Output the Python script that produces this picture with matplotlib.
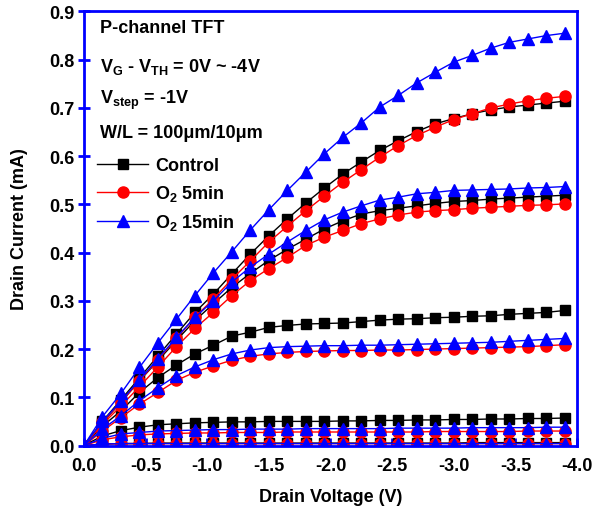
import numpy as np
import matplotlib
matplotlib.use('Agg')
import matplotlib.pyplot as plt

plt.rcParams['font.family'] = ['Liberation Sans', 'DejaVu Sans']
plt.rcParams['font.weight'] = 'bold'
plt.rcParams['mathtext.fontset'] = 'custom'
plt.rcParams['mathtext.rm'] = 'Liberation Sans:bold'
plt.rcParams['mathtext.bf'] = 'Liberation Sans:bold'
plt.rcParams['mathtext.it'] = 'Liberation Sans:bold'

# drain voltage, 0 to -3.9 V in -0.15 V steps
vd = [0, -0.15, -0.3, -0.45, -0.6, -0.75, -0.9, -1.05, -1.2, -1.35, -1.5, -1.65, -1.8,
      -1.95, -2.1, -2.25, -2.4, -2.55, -2.7, -2.85, -3.0, -3.15, -3.3, -3.45, -3.6, -3.75, -3.9]

# Control (mA), VG-VTH = 0, -1, -2, -3, -4 V
control_0 = [0, 0.003, 0.004, 0.004, 0.005, 0.005, 0.005, 0.005, 0.005, 0.005, 0.005, 0.005, 0.005,
             0.005, 0.005, 0.005, 0.005, 0.005, 0.005, 0.005, 0.005, 0.006, 0.006, 0.006, 0.006, 0.006, 0.006]
control_1 = [0, 0.020, 0.031, 0.038, 0.043, 0.045, 0.047, 0.048, 0.049, 0.049, 0.050, 0.050, 0.050,
             0.050, 0.051, 0.051, 0.052, 0.052, 0.053, 0.053, 0.054, 0.054, 0.055, 0.055, 0.056, 0.056, 0.057]
control_2 = [0, 0.040, 0.072, 0.110, 0.141, 0.167, 0.190, 0.208, 0.227, 0.235, 0.245, 0.249, 0.252,
             0.253, 0.254, 0.257, 0.260, 0.262, 0.263, 0.265, 0.266, 0.268, 0.269, 0.272, 0.274, 0.276, 0.280]
control_3 = [0, 0.047, 0.090, 0.134, 0.176, 0.218, 0.259, 0.294, 0.328, 0.357, 0.384, 0.407, 0.428,
             0.449, 0.466, 0.480, 0.487, 0.492, 0.497, 0.502, 0.506, 0.508, 0.511, 0.513, 0.515, 0.517, 0.519]
control_4 = [0, 0.050, 0.095, 0.140, 0.186, 0.231, 0.276, 0.314, 0.356, 0.397, 0.435, 0.470, 0.503,
             0.534, 0.563, 0.588, 0.612, 0.632, 0.651, 0.667, 0.678, 0.688, 0.696, 0.702, 0.706, 0.710, 0.714]

# O2 5min
o2_5_0 = [0, 0.003, 0.004, 0.004, 0.004, 0.004, 0.004, 0.004, 0.004, 0.004, 0.004, 0.004, 0.004,
          0.004, 0.004, 0.004, 0.004, 0.004, 0.004, 0.004, 0.004, 0.004, 0.004, 0.004, 0.004, 0.004, 0.004]
o2_5_1 = [0, 0.012, 0.018, 0.022, 0.024, 0.025, 0.026, 0.026, 0.027, 0.027, 0.027, 0.028, 0.028,
          0.028, 0.028, 0.028, 0.028, 0.028, 0.028, 0.029, 0.029, 0.029, 0.029, 0.029, 0.030, 0.030, 0.030]
o2_5_2 = [0, 0.030, 0.058, 0.086, 0.110, 0.135, 0.152, 0.165, 0.177, 0.185, 0.190, 0.193, 0.195,
          0.196, 0.197, 0.197, 0.198, 0.198, 0.199, 0.200, 0.201, 0.202, 0.203, 0.204, 0.205, 0.207, 0.209]
o2_5_3 = [0, 0.044, 0.082, 0.122, 0.163, 0.205, 0.243, 0.276, 0.311, 0.342, 0.367, 0.390, 0.415,
          0.432, 0.446, 0.460, 0.470, 0.478, 0.484, 0.487, 0.489, 0.492, 0.494, 0.496, 0.498, 0.499, 0.501]
o2_5_4 = [0, 0.048, 0.090, 0.134, 0.178, 0.222, 0.266, 0.304, 0.345, 0.383, 0.422, 0.455, 0.487,
          0.517, 0.546, 0.572, 0.598, 0.622, 0.643, 0.660, 0.676, 0.688, 0.700, 0.708, 0.715, 0.720, 0.724]

# O2 15min
o2_15_0 = [0, 0.003, 0.004, 0.004, 0.004, 0.004, 0.004, 0.004, 0.004, 0.004, 0.004, 0.004, 0.004,
           0.004, 0.004, 0.004, 0.004, 0.004, 0.004, 0.004, 0.004, 0.004, 0.004, 0.004, 0.004, 0.004, 0.004]
o2_15_1 = [0, 0.015, 0.024, 0.027, 0.030, 0.031, 0.032, 0.033, 0.033, 0.034, 0.034, 0.034, 0.035,
           0.035, 0.035, 0.035, 0.035, 0.036, 0.036, 0.036, 0.036, 0.037, 0.037, 0.037, 0.037, 0.038, 0.038]
o2_15_2 = [0, 0.034, 0.062, 0.093, 0.120, 0.145, 0.163, 0.178, 0.190, 0.198, 0.203, 0.205, 0.206,
           0.207, 0.207, 0.208, 0.208, 0.209, 0.210, 0.211, 0.212, 0.213, 0.214, 0.216, 0.218, 0.220, 0.222]
o2_15_3 = [0, 0.050, 0.092, 0.136, 0.180, 0.224, 0.266, 0.300, 0.339, 0.370, 0.397, 0.422, 0.446,
           0.468, 0.484, 0.497, 0.509, 0.515, 0.522, 0.525, 0.529, 0.530, 0.531, 0.532, 0.534, 0.535, 0.537]
o2_15_4 = [0, 0.060, 0.108, 0.162, 0.213, 0.262, 0.311, 0.358, 0.402, 0.447, 0.489, 0.529, 0.567,
           0.605, 0.639, 0.669, 0.702, 0.726, 0.752, 0.774, 0.795, 0.809, 0.824, 0.836, 0.843, 0.850, 0.855]

groups = [
    ('Control', 'black', 's', 7, [control_0, control_1, control_2, control_3, control_4]),
    (r'O$_2$ 5min', 'red', 'o', 8, [o2_5_0, o2_5_1, o2_5_2, o2_5_3, o2_5_4]),
    (r'O$_2$ 15min', 'blue', '^', 8.5, [o2_15_0, o2_15_1, o2_15_2, o2_15_3, o2_15_4]),
]

fig = plt.figure(figsize=(5.97, 5.10), dpi=100)
ax = fig.add_axes([0.1407, 0.1245, 0.8258, 0.851])

for label, color, marker, ms, curves in groups:
    for i, ids in enumerate(curves):
        ax.plot(vd, ids, color=color, marker=marker, markersize=ms, linewidth=1,
                label=label if i == 0 else None, zorder=2)

ax.set_xlim(0, -4.0)
ax.set_ylim(0, 0.9)
ax.set_xticks(np.arange(0, -4.01, -0.5))
ax.set_yticks(np.arange(0, 0.91, 0.1))
ax.xaxis.set_major_formatter(plt.FormatStrFormatter('%.1f'))
ax.yaxis.set_major_formatter(plt.FormatStrFormatter('%.1f'))
ax.tick_params(axis='both', direction='in', length=6, width=2, color='blue',
               labelsize=13, pad=3)
ax.tick_params(axis='x', pad=8)
ax.tick_params(axis='y', direction='inout', length=8)
for lab in ax.get_xticklabels() + ax.get_yticklabels():
    lab.set_fontweight('bold')
for sp in ax.spines.values():
    sp.set_color('blue')
    sp.set_linewidth(2)

ax.set_xlabel('Drain Voltage (V)', fontsize=13, fontweight='bold', labelpad=10)
ax.set_ylabel('Drain Current (mA)', fontsize=13, fontweight='bold', labelpad=15)

tx = 0.032
ax.text(tx, 0.963, 'P-channel TFT', transform=ax.transAxes, fontsize=13,
        fontweight='bold', va='center')
ax.text(tx, 0.875, r'V$_\mathbf{G}$ - V$_\mathbf{TH}$ = 0V ~ -4V', transform=ax.transAxes,
        fontsize=13, fontweight='bold', va='center')
ax.text(tx, 0.797, r'V$_\mathbf{step}$ = -1V', transform=ax.transAxes, fontsize=13,
        fontweight='bold', va='center')
ax.text(tx, 0.722, 'W/L = 100\u03bcm/10\u03bcm', transform=ax.transAxes, fontsize=13,
        fontweight='bold', va='center')

leg = ax.legend(loc='upper left', bbox_to_anchor=(0.005, 0.69), frameon=False,
                fontsize=13, handlelength=2.8, handletextpad=0.4, labelspacing=0.5,
                borderaxespad=0.2)
for t in leg.get_texts():
    t.set_fontweight('bold')

fig.set_facecolor('white')
plt.savefig('out.png', dpi=100)
